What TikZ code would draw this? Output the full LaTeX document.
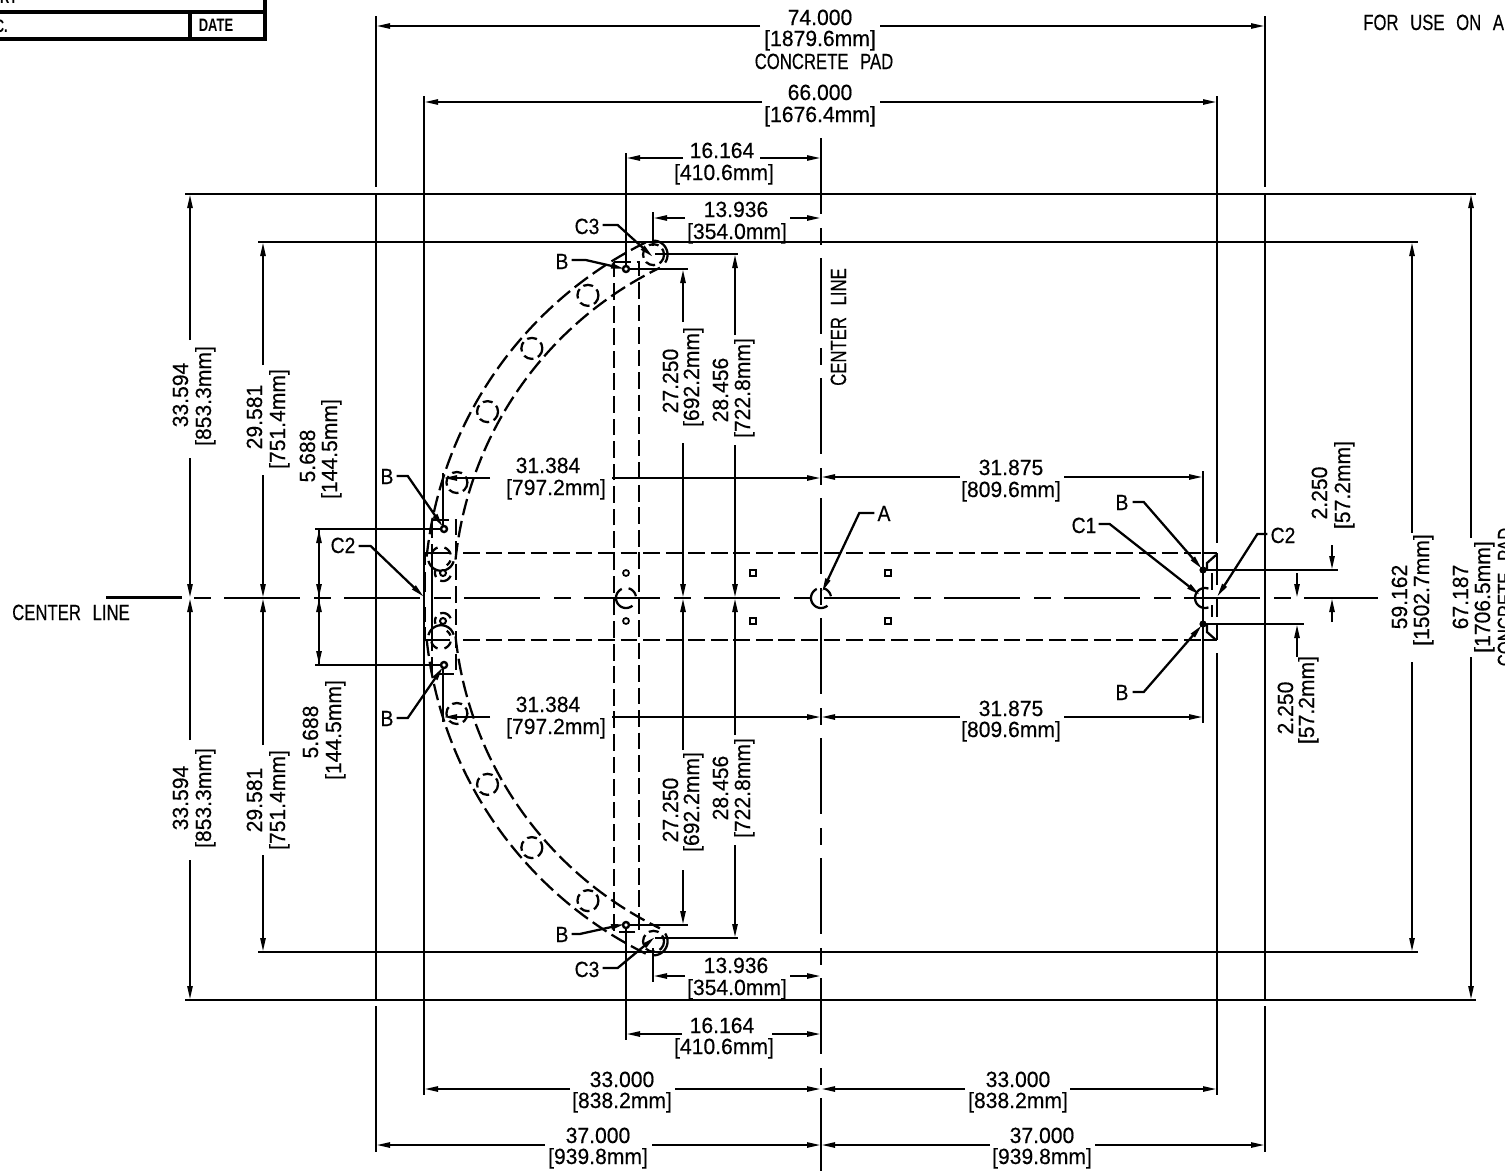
\documentclass[tikz,border=0pt]{standalone}
\usepackage{fontspec}
\usetikzlibrary{arrows.meta}
\setmainfont{Liberation Sans}
\newfontfamily\dimfam{Liberation Sans}[FakeStretch=0.96,WordSpace=2,FakeBold=0.35]
\newfontfamily\capfam{Liberation Sans}[FakeStretch=0.76,WordSpace=2.5,FakeBold=0.35]
\newfontfamily\labfam{Liberation Sans}[FakeStretch=0.88,FakeBold=0.35]
\newfontfamily\tblfam{Liberation Sans}[FakeStretch=0.72]
\tikzset{
  x=0.75pt,y=-0.75pt,
  ln/.style={line width=1.7pt,line cap=butt},
  tipped/.style={ln,-{Triangle[length=10.5pt,width=3.8pt]}},
  hid/.style={ln,dash pattern=on 12.5pt off 4.4pt},
  holed/.style={ln,dash pattern=on 7.5pt off 3.6pt},
  cline/.style={ln,dash pattern=on 57pt off 10.5pt on 12.75pt off 9.75pt},
  cline2/.style={ln,dash pattern=on 12.75pt off 9.75pt on 57pt off 10.5pt},
  dt/.style={inner sep=0pt,text height=12pt,text depth=0pt,font=\fontsize{16.5}{18}\dimfam\selectfont},
  ct/.style={inner sep=0pt,text height=12pt,text depth=0pt,font=\fontsize{16.5}{18}\capfam\selectfont},
  lt/.style={inner sep=0pt,text height=12pt,text depth=0pt,font=\fontsize{16.5}{18}\labfam\selectfont},
  up/.style={rotate=90},
  tbl/.style={line width=3pt},
}
\newcommand\harc[5]{\draw[ln] plot[domain=#4:#5,samples=25,smooth] ({#1+#3*cos(\x)},{#2+#3*sin(\x)});}
\begin{document}
\begin{tikzpicture}
\useasboundingbox (0,0) rectangle (1505,1171);
\fill[white] (0,0) rectangle (1505,1171);
% title table
\draw[tbl] (-5,11.5) -- (265,11.5) (-5,39) -- (265,39) (265,-5) -- (265,40.5) (190,11.5) -- (190,39);
\node[inner sep=0pt,font=\fontsize{13.5}{15}\tblfam\bfseries\selectfont] (tdate) at (216,25) {DATE};
\node[inner sep=0pt,anchor=east,font=\fontsize{13.5}{15}\tblfam\bfseries\selectfont] (tno) at (8,26) {C.};
\node[inner sep=0pt,anchor=east,font=\fontsize{13.5}{15}\tblfam\bfseries\selectfont] (trt) at (18,-3) {RY};
\node[ct,anchor=west] (foruse) at (1363,22) {FOR USE ON A};
% pad and extension lines
\draw[ln] (185,194) -- (1476,194) (185,1000) -- (1476,1000) (258,242) -- (1418,242) (258,952) -- (1418,952);
\draw[ln] (376,16) -- (376,187) (376,194) -- (376,1000) (376,1006) -- (376,1152);
\draw[ln] (1265,16) -- (1265,187) (1265,194) -- (1265,1000) (1265,1006) -- (1265,1152);
\draw[ln] (424,96) -- (424,1095);
\draw[ln] (1217,96) -- (1217,543) (1217,653) -- (1217,1095);
\draw[ln] (1203,471) -- (1203,723);
\draw[ln] (626,153) -- (626,269) (626,925) -- (626,1040);
\draw[ln] (653,212) -- (653,246) (653,948) -- (653,982);
\draw[ln] (443,473) -- (443,529) (443,665) -- (443,722);
\draw[ln] (626,269) -- (688,269) (626,925) -- (688,925) (655,254) -- (738,254) (655,938) -- (738,938);
\draw[ln] (315,529) -- (444,529) (315,665) -- (444,665);
\draw[ln] (1203,570) -- (1338,570) (1203,624) -- (1304,624);
% centre lines
\draw[cline2] (194,598) -- (1378,598);
\draw[cline] (821,138) -- (821,1171);
\draw[ln] (106,597.5) -- (182,597.5);
% hidden geometry
\draw[hid] (463,553) -- (1203,553);
\draw[hid] (463,640) -- (1203,640);
\draw[ln] (433,553) -- (450,553) (433,640) -- (450,640) (424,553) -- (432,553) (424,640) -- (432,640);
\draw[hid] (614,262) -- (639,262) -- (639,932) -- (614,932) -- cycle;
\draw[hid] (432,520) -- (456,520) -- (456,674) -- (432,674) -- cycle;
\foreach \s in {1,-1}{
  \draw[hid] plot[domain=6:64,samples=50,smooth] ({821-396.5*cos(\x)},{598-\s*396.5*sin(\x)});
  \draw[hid] plot[domain=6:64,samples=50,smooth] ({821-367.5*cos(\x)},{598-\s*367.5*sin(\x)});
  % end caps of the band: the far side only
  \draw[ln] plot[domain=25:150,samples=25,smooth,variable=\p] ({821-382*cos(64)+14*(cos(\p)*(-cos(64))+sin(\p)*sin(64))},{598-\s*382*sin(64)+\s*14*(cos(\p)*(-sin(64))-sin(\p)*cos(64))});
  \draw[ln] plot[domain=20:170,samples=25,smooth,variable=\p] ({821-382*cos(6)+13*(cos(\p)*(-cos(6))-sin(\p)*sin(6))},{598-\s*385*sin(6)+\s*13*(cos(\p)*(-sin(6))+sin(\p)*cos(6))});
  % bolt holes
  \foreach \a in {17.6,29.2,40.8,52.4,64}{
    \draw[holed] ({821-382*cos(\a)},{598-\s*382*sin(\a)}) circle (10.5);
  }
}
% partly hidden holes at the pivot end of the band
\harc{441}{557}{10}{195}{250}
\harc{441}{557}{10}{290}{345}
\harc{441}{557}{10}{20}{55}
\harc{441}{639}{10}{110}{165}
\harc{441}{639}{10}{15}{70}
\harc{441}{639}{10}{305}{340}
% small fixtures
\foreach \px/\py in {753/573,888/573,753/621,888/621}{
  \draw[line width=1.1pt] (\px-2.8,\py-2.8) rectangle (\px+2.8,\py+2.8);
}
\foreach \py in {573,621}{
  \draw[line width=1.3pt] (626,\py) circle (3);
  \draw[line width=1.5pt,fill=white] (443,\py) circle (3);
}
\harc{443}{573}{8}{20}{110}
\harc{443}{573}{8}{150}{200}
\harc{443}{621}{8}{250}{340}
\harc{443}{621}{8}{160}{210}
\harc{821}{598}{10}{50}{245}
\harc{821}{598}{10}{285}{350}
\harc{626}{598}{10}{50}{245}
\harc{626}{598}{10}{285}{350}
\harc{1205}{598}{10}{70}{290}
\foreach \px/\py in {444/529,444/665,626/269,626/925}{
  \draw[line width=1.8pt,fill=white] (\px,\py) circle (3);
}
\fill (1203,570) circle (3.6) (1203,624) circle (3.6);
% thick dashes at the ends of the base
\draw[line width=1.9pt] (425,553) -- (425,565) (425,572) -- (425,592) (425,607) -- (425,622) (425,627) -- (425,640);
\draw[ln] (432,553) -- (432,640);
\draw[ln] (1203,553) -- (1217,553) (1203,640) -- (1217,640);
\draw[line width=1.8pt] (1217,553) -- (1217,585) (1217,597) -- (1217,617) (1217,623) -- (1217,640);
\draw[ln] (1212,573) -- (1212,590) (1212,605) -- (1212,617);
\draw[ln] (1216,555) -- (1207,563) -- (1207,570) (1207,625) -- (1207,632) -- (1216,640);
% horizontal dimensions
\draw[tipped] (760,26) -- (376,26); \draw[tipped] (880,26) -- (1265,26);
\node[dt] (l74a) at (820,17) {74.000};
\node[dt] (l74b) at (820,38) {[1879.6mm]};
\node[ct] (l74c) at (824,61) {CONCRETE PAD};
\draw[tipped] (762,102) -- (424,102); \draw[tipped] (880,102) -- (1217,102);
\node[dt] (l66a) at (820,92) {66.000};
\node[dt] (l66b) at (820,114) {[1676.4mm]};
\draw[tipped] (683,158) -- (626,158); \draw[tipped] (760,158) -- (821,158);
\node[dt] (l16a) at (722,150) {16.164};
\node[dt] (l16b) at (724,172) {[410.6mm]};
\draw[tipped] (685,218) -- (653,218); \draw[tipped] (790,218) -- (821,218);
\node[dt] (l13a) at (736,209) {13.936};
\node[dt] (l13b) at (737,231) {[354.0mm]};
\draw[tipped] (490,478) -- (443,478); \draw[tipped] (612,478) -- (821,478);
\node[dt] (l31a) at (548,465) {31.384};
\node[dt] (l31b) at (556,487) {[797.2mm]};
\draw[tipped] (960,477) -- (821,477); \draw[tipped] (1064,477) -- (1203,477);
\node[dt] (l31c) at (1011,467) {31.875};
\node[dt] (l31d) at (1011,489) {[809.6mm]};
\draw[tipped] (490,717) -- (443,717); \draw[tipped] (612,717) -- (821,717);
\node[dt] (l31e) at (548,704) {31.384};
\node[dt] (l31f) at (556,726) {[797.2mm]};
\draw[tipped] (960,717) -- (821,717); \draw[tipped] (1064,717) -- (1203,717);
\node[dt] (l31g) at (1011,708) {31.875};
\node[dt] (l31h) at (1011,729) {[809.6mm]};
\draw[tipped] (685,976) -- (653,976); \draw[tipped] (790,976) -- (821,976);
\node[dt] (l13c) at (736,965) {13.936};
\node[dt] (l13d) at (737,987) {[354.0mm]};
\draw[tipped] (682,1034) -- (626,1034); \draw[tipped] (772,1034) -- (821,1034);
\node[dt] (l16c) at (722,1025) {16.164};
\node[dt] (l16d) at (724,1046) {[410.6mm]};
\draw[tipped] (570,1089) -- (424,1089); \draw[tipped] (675,1089) -- (821,1089);
\node[dt] (l33a) at (622,1079) {33.000};
\node[dt] (l33b) at (622,1100) {[838.2mm]};
\draw[tipped] (965,1089) -- (821,1089); \draw[tipped] (1070,1089) -- (1217,1089);
\node[dt] (l33c) at (1018,1079) {33.000};
\node[dt] (l33d) at (1018,1100) {[838.2mm]};
\draw[tipped] (545,1145) -- (376,1145); \draw[tipped] (652,1145) -- (821,1145);
\node[dt] (l37a) at (598,1135) {37.000};
\node[dt] (l37b) at (598,1156) {[939.8mm]};
\draw[tipped] (990,1145) -- (821,1145); \draw[tipped] (1095,1145) -- (1265,1145);
\node[dt] (l37c) at (1042,1135) {37.000};
\node[dt] (l37d) at (1042,1156) {[939.8mm]};
% vertical dimensions, left
\draw[tipped] (190,340) -- (190,194); \draw[tipped] (190,458) -- (190,598);
\node[dt,up] (v33a) at (180,395) {33.594};
\node[dt,up] (v33b) at (203,396) {[853.3mm]};
\draw[tipped] (190,740) -- (190,598); \draw[tipped] (190,860) -- (190,1000);
\node[dt,up] (v33c) at (180,798) {33.594};
\node[dt,up] (v33d) at (203,798) {[853.3mm]};
\draw[tipped] (263,365) -- (263,242); \draw[tipped] (263,475) -- (263,598);
\node[dt,up] (v29a) at (254,417) {29.581};
\node[dt,up] (v29b) at (277,419) {[751.4mm]};
\draw[tipped] (263,745) -- (263,598); \draw[tipped] (263,855) -- (263,952);
\node[dt,up] (v29c) at (254,800) {29.581};
\node[dt,up] (v29d) at (277,800) {[751.4mm]};
\draw[tipped] (319,598) -- (319,529); \draw[tipped] (319,529) -- (319,598);
\draw[tipped] (319,665) -- (319,598); \draw[tipped] (319,598) -- (319,665);
\node[dt,up] (v5a) at (307,456) {5.688};
\node[dt,up] (v5b) at (329,449) {[144.5mm]};
\node[dt,up] (v5c) at (310,732) {5.688};
\node[dt,up] (v5d) at (333,730) {[144.5mm]};
% vertical dimensions, middle
\draw[tipped] (683,322) -- (683,269); \draw[tipped] (683,443) -- (683,598);
\node[dt,up] (v27a) at (670,381) {27.250};
\node[dt,up] (v27b) at (691,377) {[692.2mm]};
\draw[tipped] (683,750) -- (683,598); \draw[tipped] (683,870) -- (683,925);
\node[dt,up] (v27c) at (670,810) {27.250};
\node[dt,up] (v27d) at (691,802) {[692.2mm]};
\draw[tipped] (735,335) -- (735,254); \draw[tipped] (735,445) -- (735,598);
\node[dt,up] (v28a) at (720,390) {28.456};
\node[dt,up] (v28b) at (742,388) {[722.8mm]};
\draw[tipped] (735,735) -- (735,598); \draw[tipped] (735,845) -- (735,938);
\node[dt,up] (v28c) at (720,788) {28.456};
\node[dt,up] (v28d) at (742,788) {[722.8mm]};
\node[ct,up] (cl1) at (838,327) {CENTER LINE};
\node[ct] (cl2) at (71,612) {CENTER LINE};
% vertical dimensions, right
\draw[tipped] (1332,545) -- (1332,570); \draw[tipped] (1332,622) -- (1332,598);
\node[dt,up] (v2a) at (1319,493) {2.250};
\node[dt,up] (v2b) at (1342,485) {[57.2mm]};
\draw[tipped] (1297,573) -- (1297,598); \draw[tipped] (1297,657) -- (1297,624);
\node[dt,up] (v2c) at (1285,708) {2.250};
\node[dt,up] (v2d) at (1306,700) {[57.2mm]};
\draw[tipped] (1412,400) -- (1412,242); \draw[ln] (1412,400) -- (1412,533); \draw[ln] (1412,662) -- (1412,800); \draw[tipped] (1412,800) -- (1412,952);
\node[dt,up] (v59a) at (1399,597) {59.162};
\node[dt,up] (v59b) at (1421,590) {[1502.7mm]};
\draw[tipped] (1471,400) -- (1471,194); \draw[ln] (1471,400) -- (1471,538); \draw[ln] (1471,657) -- (1471,800); \draw[tipped] (1471,800) -- (1471,1000);
\node[dt,up] (v67a) at (1460,597) {67.187};
\node[dt,up] (v67b) at (1482,597) {[1706.5mm]};
\node[ct,up] (v67c) at (1505,597) {CONCRETE PAD};
% leaders
\tikzset{every node/.append style={lt}}
\coordinate (tB1) at (443,527);
\coordinate (tB2) at (443,667);
\coordinate (tB3) at (625,269);
\coordinate (tB4) at (625,924);
\coordinate (tB5) at (1202,569);
\coordinate (tB6) at (1202,625);
\coordinate (tC1) at (1200,595);
\coordinate (tC2a) at (424,597);
\coordinate (tC2b) at (1217,597);
\coordinate (tC3a) at (653,257);
\coordinate (tC3b) at (655,937);
\coordinate (tA) at (822,592);
\node (B1) at (387,476) {B}; \draw[tipped] (B1.east) ++(3,0) -- ++(11,0) -- (tB1);
\node (B2) at (387,718) {B}; \draw[tipped] (B2.east) ++(3,0) -- ++(11,0) -- (tB2);
\node (B3) at (562,261) {B}; \draw[tipped] (B3.east) ++(3,-1) -- ++(14,0) -- (tB3);
\node (B4) at (562,934) {B}; \draw[tipped] (B4.east) ++(3,0) -- ++(8,0) -- (tB4);
\node (B5) at (1122,502) {B}; \draw[tipped] (B5.east) ++(4,0) -- ++(11,0) -- (tB5);
\node (B6) at (1122,692) {B}; \draw[tipped] (B6.east) ++(4,0) -- ++(11,0) -- (tB6);
\node (C1) at (1084,525) {C1}; \draw[tipped] (C1.east) ++(2,-1) -- ++(11,0) -- (tC1);
\node (C2a) at (343,545) {C2}; \draw[tipped] (C2a.east) ++(3,1) -- ++(12,0) -- (tC2a);
\node (C2b) at (1283,535) {C2}; \draw[tipped] (C2b.west) ++(-3,-1) -- ++(-10,0) -- (tC2b);
\node (C3a) at (587,226) {C3}; \draw[tipped] (C3a.east) ++(3,-1) -- ++(15,0) -- (tC3a);
\node (C3b) at (587,969) {C3}; \draw[tipped] (C3b.east) ++(3,-1) -- ++(15,0) -- (tC3b);
\node (A) at (884,513) {A}; \draw[tipped] (A.west) ++(-3,0) -- ++(-15,0) -- (tA);
\end{tikzpicture}
\end{document}
